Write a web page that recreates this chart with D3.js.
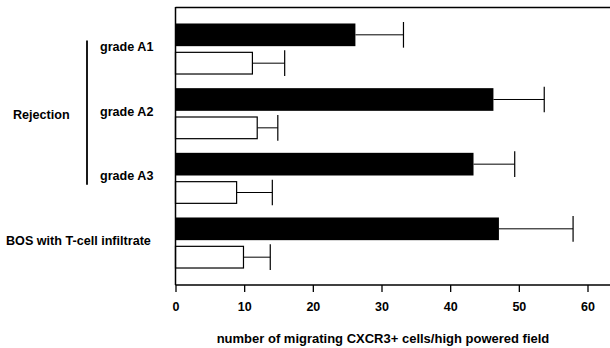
<!DOCTYPE html>
<html><head><meta charset="utf-8">
<script src="https://cdn.jsdelivr.net/npm/d3@7"></script>
<style>
html,body{margin:0;padding:0;background:#fff;}
text{font-family:"Liberation Sans",Arial,Helvetica,sans-serif;font-weight:bold;fill:#000;}
</style></head>
<body><svg id="c" width="610" height="348"></svg>
<script>
const categories = ["grade A1", "grade A2", "grade A3", "BOS with T-cell infiltrate"];
const series = ["filled", "open"];
const filledValues = [26.2, 46.3, 43.4, 47.1];
const filledErrors = [7.0, 7.4, 6.0, 10.8];
const openValues = [11.2, 11.9, 8.9, 9.9];
const openErrors = [4.7, 3.0, 5.2, 3.9];
const xTicks = [0, 10, 20, 30, 40, 50, 60];
const groupLabel = "Rejection";
const xTitle = "number of migrating CXCR3+ cells/high powered field";

(function () {
const svg = d3.select("#c");
const mLeft = 175.5, mTop = 7, mBottom = 285;
const x = d3.scaleLinear().domain([0, 60]).range([mLeft, mLeft + 412]);
const y = d3.scaleBand().domain(categories).range([mTop, mBottom]).paddingInner(0.211).paddingOuter(0.255);
const ySub = d3.scaleBand().domain(series).range([0, y.bandwidth()]).paddingInner(0.2);

const data = [];
categories.forEach((c, i) => {
  data.push({cat: c, s: "filled", v: filledValues[i], e: filledErrors[i]});
  data.push({cat: c, s: "open", v: openValues[i], e: openErrors[i]});
});

svg.append("line").attr("x1", mLeft).attr("x2", 610).attr("y1", mTop + 0.5).attr("y2", mTop + 0.5)
  .attr("stroke", "#000").attr("stroke-width", 1.5);

const g = svg.append("g");
data.forEach(d => {
  const yc = y(d.cat) + ySub(d.s) + ySub.bandwidth() / 2;
  g.append("line").attr("x1", x(d.v)).attr("x2", x(d.v + d.e)).attr("y1", yc).attr("y2", yc)
    .attr("stroke", "#000").attr("stroke-width", 1);
  g.append("line").attr("x1", x(d.v + d.e)).attr("x2", x(d.v + d.e))
    .attr("y1", y(d.cat) + ySub(d.s) - 1.5).attr("y2", y(d.cat) + ySub(d.s) + ySub.bandwidth() + 1.5)
    .attr("stroke", "#000").attr("stroke-width", 1.2);
});
g.selectAll("rect.bar").data(data).join("rect")
  .attr("x", x(0))
  .attr("y", d => y(d.cat) + ySub(d.s) + (d.s === "open" ? 0.5 : 0))
  .attr("width", d => x(d.v) - x(0))
  .attr("height", d => ySub.bandwidth() - (d.s === "open" ? 1 : 0))
  .attr("fill", d => d.s === "filled" ? "#000" : "#fff")
  .attr("stroke", d => d.s === "filled" ? "none" : "#000")
  .attr("stroke-width", 1.2);

const xAxis = d3.axisBottom(x).tickValues(xTicks).tickSize(7).tickPadding(10).tickSizeOuter(0);
const ax = svg.append("g").attr("transform", `translate(0,${mBottom})`).call(xAxis);
ax.select(".domain").remove();
ax.selectAll(".tick line").attr("stroke", "#000").attr("stroke-width", 1.3);
ax.selectAll("text").style("font-size", "12.5px").attr("fill", "#000");
svg.append("line").attr("x1", mLeft).attr("x2", 610).attr("y1", mBottom).attr("y2", mBottom)
  .attr("stroke", "#000").attr("stroke-width", 1.5);
svg.append("line").attr("x1", mLeft).attr("x2", mLeft).attr("y1", mTop).attr("y2", mBottom)
  .attr("stroke", "#000").attr("stroke-width", 1.5);

svg.append("text").attr("x", 383).attr("y", 343).attr("text-anchor", "middle")
  .style("font-size", "13px").text(xTitle);

categories.forEach((c, i) => {
  const yc = y(c) + y.bandwidth() / 2 + 2;
  svg.append("text").attr("x", i < 3 ? 100 : 6).attr("y", yc)
    .style("font-size", "12.6px").text(c);
});
svg.append("line").attr("x1", 87).attr("x2", 87)
  .attr("y1", y(categories[0]) + y.bandwidth() / 2 - 8.5)
  .attr("y2", y(categories[2]) + y.bandwidth() / 2 + 6.5)
  .attr("stroke", "#000").attr("stroke-width", 1.8);
svg.append("text").attr("x", 13).attr("y", (y(categories[0]) + y(categories[2]) + y.bandwidth()) / 2 + 5)
  .style("font-size", "12.6px").text(groupLabel);
})();
</script></body></html>
